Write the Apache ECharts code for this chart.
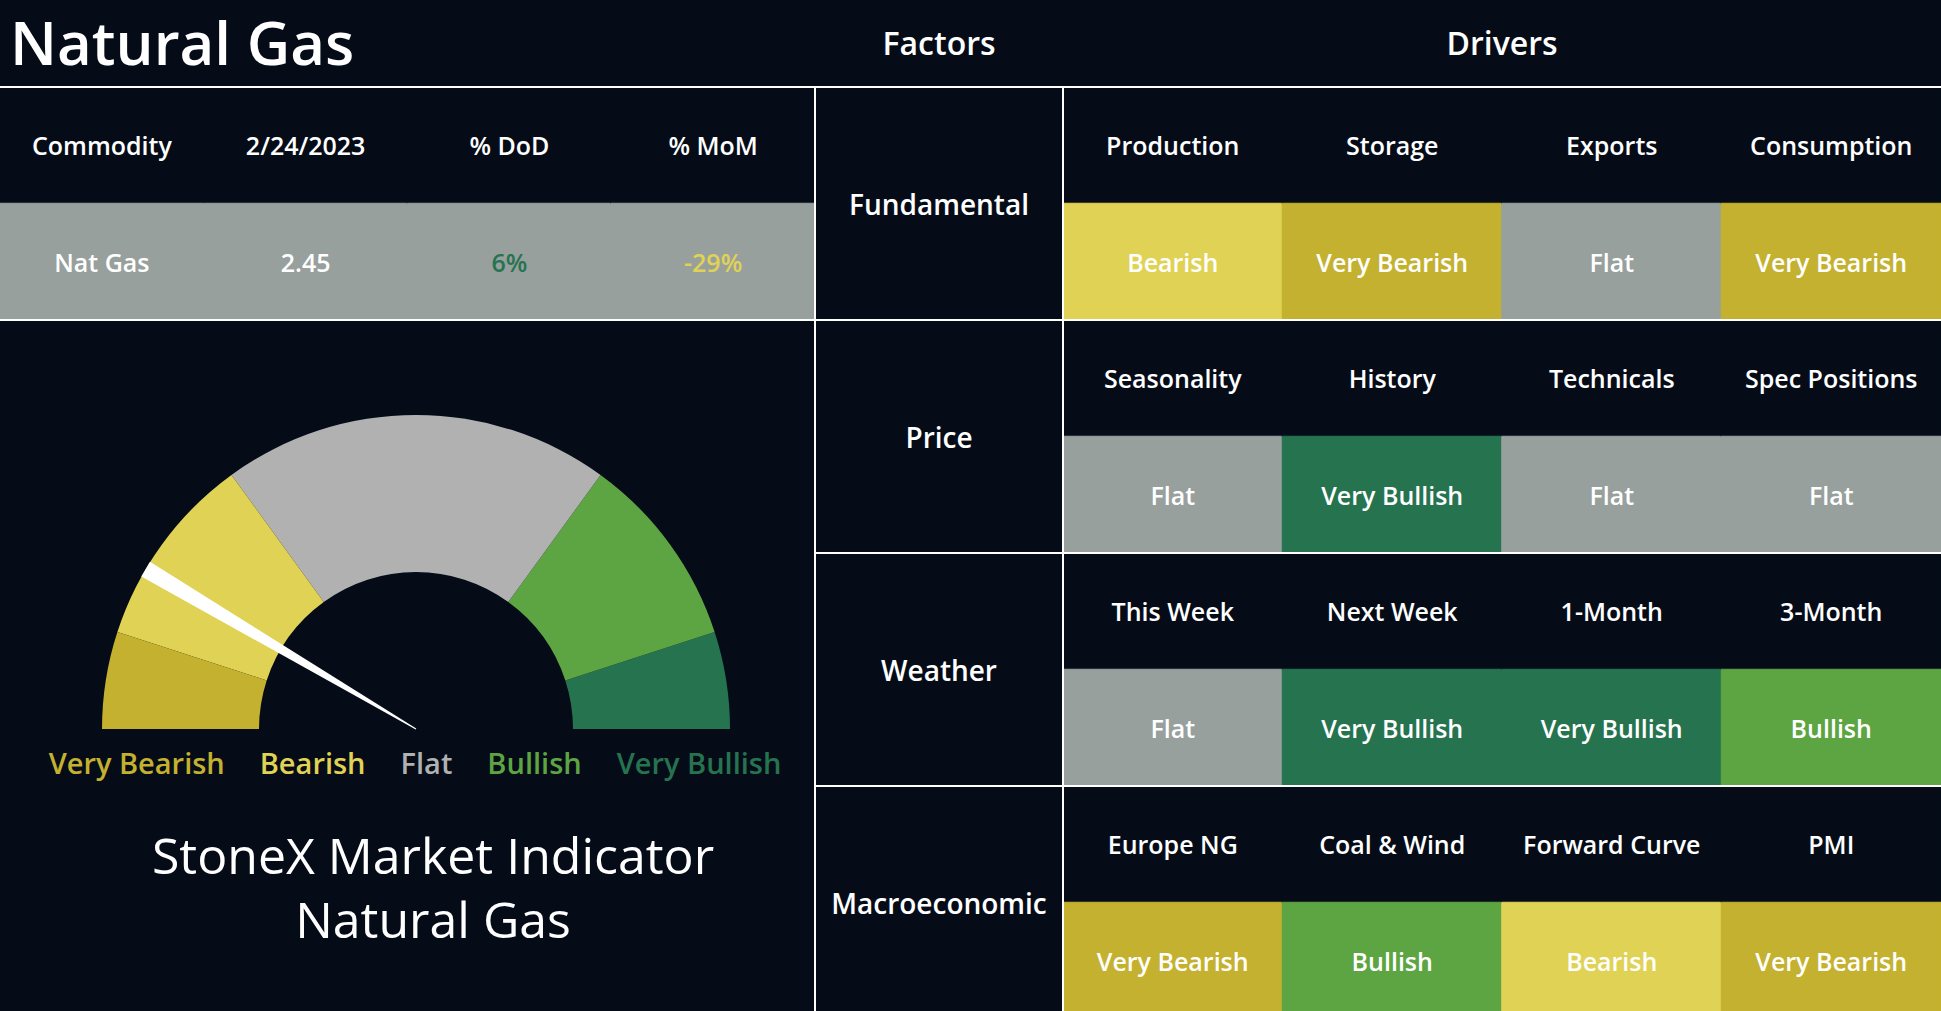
<!DOCTYPE html>
<html><head><meta charset="utf-8">
<script src="https://cdn.jsdelivr.net/npm/echarts@6/dist/echarts.min.js"></script>
<style>html,body{margin:0;padding:0;background:#050c18;overflow:hidden}#chart{width:1941px;height:1019px;}</style>
</head><body><div id="chart"></div>
<script>
// ---------- data ----------
const levels = ['Very Bearish', 'Bearish', 'Flat', 'Bullish', 'Very Bullish'];
const levelBreaks = [10, 30, 70, 90, 100];
const indicatorValue = 17;
const tableHeaders = ['Commodity', '2/24/2023', '% DoD', '% MoM'];
const commodityName = 'Nat Gas';
const commodityPrice = 2.45;
const changeDoD = 6;
const changeMoM = -29;
const factors = ['Fundamental', 'Price', 'Weather', 'Macroeconomic'];
const driverNames = [
  ['Production', 'Storage', 'Exports', 'Consumption'],
  ['Seasonality', 'History', 'Technicals', 'Spec Positions'],
  ['This Week', 'Next Week', '1-Month', '3-Month'],
  ['Europe NG', 'Coal & Wind', 'Forward Curve', 'PMI']
];
const driverSignals = [
  ['Bearish', 'Very Bearish', 'Flat', 'Very Bearish'],
  ['Flat', 'Very Bullish', 'Flat', 'Flat'],
  ['Flat', 'Very Bullish', 'Very Bullish', 'Bullish'],
  ['Very Bearish', 'Bullish', 'Bearish', 'Very Bearish']
];

// ---------- style ----------
const BG = '#050c18';
const FONT = '"Open Sans", "Noto Sans", sans-serif';
const cellColors = ['#c4b12f', '#e0d254', '#98a09e', '#5da443', '#267350'];
const gaugeColors = ['#c4b12f', '#e0d254', '#b1b1b1', '#5da443', '#267350'];
const LINE = { color: '#ffffff', width: 2 };
const W = 1941, TOP = 87, X1 = 815, X2 = 1063;
const ROWH = 233;

const chart = echarts.init(document.getElementById('chart'), null, { renderer: 'svg' });

const cellStyle = c => ({ color: c, borderColor: c, borderWidth: 1 });

// left table
const tableValues = [commodityName, commodityPrice.toFixed(2), changeDoD + '%', changeMoM + '%'];
const pctColor = v => v >= 0 ? cellColors[4] : cellColors[1];
const valueColors = ['#ffffff', '#ffffff', pctColor(changeDoD), pctColor(changeMoM)];
const tableData = [];
tableHeaders.forEach((h, c) => {
  tableData.push({ value: [c, 0, 0], name: h, itemStyle: cellStyle(BG), label: { color: '#ffffff' } });
  tableData.push({ value: [c, 1, 1], name: tableValues[c], itemStyle: cellStyle(cellColors[2]), label: { color: valueColors[c] } });
});

// factor column
const factorData = factors.map((f, r) => ({ value: [0, r, 0], name: f, itemStyle: cellStyle(BG) }));

// drivers
const driverRows = [];
factors.forEach((f) => { driverRows.push(f + ' drivers'); driverRows.push(f + ' signals'); });
const driverData = [];
driverNames.forEach((row, i) => {
  row.forEach((n, c) => {
    driverData.push({ value: [c, 2 * i, -1], name: n, itemStyle: cellStyle(BG) });
    const s = driverSignals[i][c];
    const li = levels.indexOf(s);
    driverData.push({ value: [c, 2 * i + 1, li], name: s, itemStyle: cellStyle(cellColors[li]) });
  });
});

const hiddenCat = { axisTick: { show: false }, axisLabel: { show: false }, splitLine: { show: false } };

const rich = {};
levels.forEach((l, i) => {
  rich['l' + i] = { fill: gaugeColors[i], color: gaugeColors[i], fontSize: 29, fontFamily: FONT, fontWeight: 600, padding: [0, 17.5] };
});
const gaugeLabelText = levels.map((l, i) => '{l' + i + '|' + l + '}').join('');

const axisLineOn = { show: true, onZero: false, lineStyle: LINE };

const option = {
  backgroundColor: BG,
  animation: false,
  grid: [
    { left: 0, top: TOP, width: X1, height: ROWH, outerBoundsMode: 'none' },
    { left: X1, top: TOP, width: X2 - X1, height: ROWH * 4, outerBoundsMode: 'none' },
    { left: X2, top: TOP, right: 0, height: ROWH * 4, outerBoundsMode: 'none' }
  ],
  xAxis: [
    Object.assign({ gridIndex: 0, z: 10, type: 'category', data: tableHeaders, position: 'top', axisLine: axisLineOn }, hiddenCat),
    Object.assign({ gridIndex: 0, z: 10, type: 'category', data: tableHeaders, position: 'bottom', axisLine: axisLineOn }, hiddenCat),
    Object.assign({ gridIndex: 1, z: 10, type: 'category', data: ['Factors'], position: 'top', axisLine: axisLineOn }, hiddenCat),
    Object.assign({ gridIndex: 2, z: 10, type: 'category', data: [0, 1, 2, 3], position: 'top', axisLine: axisLineOn }, hiddenCat)
  ],
  yAxis: [
    Object.assign({ gridIndex: 0, z: 10, type: 'category', data: ['header', 'values'], inverse: true, axisLine: { show: false } }, hiddenCat),
    { gridIndex: 1, z: 10, type: 'category', data: factors, inverse: true,
      axisLine: axisLineOn, axisTick: { show: false }, axisLabel: { show: false },
      splitLine: { show: true, showMaxLine: false, lineStyle: LINE } },
    { gridIndex: 2, z: 10, type: 'category', data: driverRows, inverse: true,
      axisLine: axisLineOn, axisTick: { show: false }, axisLabel: { show: false },
      splitLine: { show: true, showMaxLine: false, interval: (idx) => idx % 2 === 0, lineStyle: LINE } }
  ],
  series: [
    { type: 'heatmap', xAxisIndex: 0, yAxisIndex: 0, data: tableData, z: 1,
      emphasis: { disabled: true },
      label: { show: true, formatter: '{b}', fontSize: 25, fontFamily: FONT, fontWeight: 600 } },
    { type: 'heatmap', xAxisIndex: 2, yAxisIndex: 1, data: factorData, z: 1,
      emphasis: { disabled: true },
      label: { show: true, formatter: '{b}', color: '#ffffff', fontSize: 28, fontFamily: FONT, fontWeight: 600 } },
    { type: 'heatmap', xAxisIndex: 3, yAxisIndex: 2, data: driverData, z: 1,
      emphasis: { disabled: true },
      label: { show: true, formatter: '{b}', color: '#ffffff', fontSize: 25, fontFamily: FONT, fontWeight: 600 } },
    { type: 'gauge', center: [416, 729], radius: 314, startAngle: 180, endAngle: 0, min: 0, max: 100,
      axisLine: { roundCap: false, lineStyle: { width: 157, color: levelBreaks.map((b, i) => [b / 100, gaugeColors[i]]) } },
      splitLine: { show: false }, axisTick: { show: false }, axisLabel: { show: false },
      progress: { show: false }, anchor: { show: false }, title: { show: false }, detail: { show: false },
      pointer: { show: true, icon: 'path://M0,0 L10,0 L5.3,100 L4.7,100 Z', length: '100%', width: 17, offsetCenter: [0, 0], itemStyle: { color: '#ffffff' } },
      data: [{ value: indicatorValue, name: 'StoneX Market Indicator' }] }
  ],
  graphic: [
    { type: 'text', x: 10, y: 42, silent: true, style: { text: 'Natural Gas', fill: '#ffffff', fontSize: 60, fontFamily: FONT, fontWeight: 600, align: 'left', verticalAlign: 'middle', textAlign: 'left', textVerticalAlign: 'middle' } },
    { type: 'text', x: (X1 + X2) / 2, y: 42, silent: true, style: { text: 'Factors', fill: '#ffffff', fontSize: 32, fontFamily: FONT, fontWeight: 600, align: 'center', verticalAlign: 'middle', textAlign: 'center', textVerticalAlign: 'middle' } },
    { type: 'text', x: (X2 + W) / 2, y: 42, silent: true, style: { text: 'Drivers', fill: '#ffffff', fontSize: 32, fontFamily: FONT, fontWeight: 600, align: 'center', verticalAlign: 'middle', textAlign: 'center', textVerticalAlign: 'middle' } },
    { type: 'text', x: 415, y: 762, silent: true, style: { text: gaugeLabelText, rich: rich, fontSize: 29, fontFamily: FONT, align: 'center', verticalAlign: 'middle', textAlign: 'center', textVerticalAlign: 'middle' } },
    { type: 'text', x: 433, y: 855, silent: true, style: { text: 'StoneX Market Indicator', fill: '#ffffff', fontSize: 50, fontFamily: FONT, fontWeight: 400, align: 'center', verticalAlign: 'middle', textAlign: 'center', textVerticalAlign: 'middle' } },
    { type: 'text', x: 433, y: 919, silent: true, style: { text: 'Natural Gas', fill: '#ffffff', fontSize: 50, fontFamily: FONT, fontWeight: 400, align: 'center', verticalAlign: 'middle', textAlign: 'center', textVerticalAlign: 'middle' } }
  ]
};
chart.setOption(option);
</script>
</body></html>
